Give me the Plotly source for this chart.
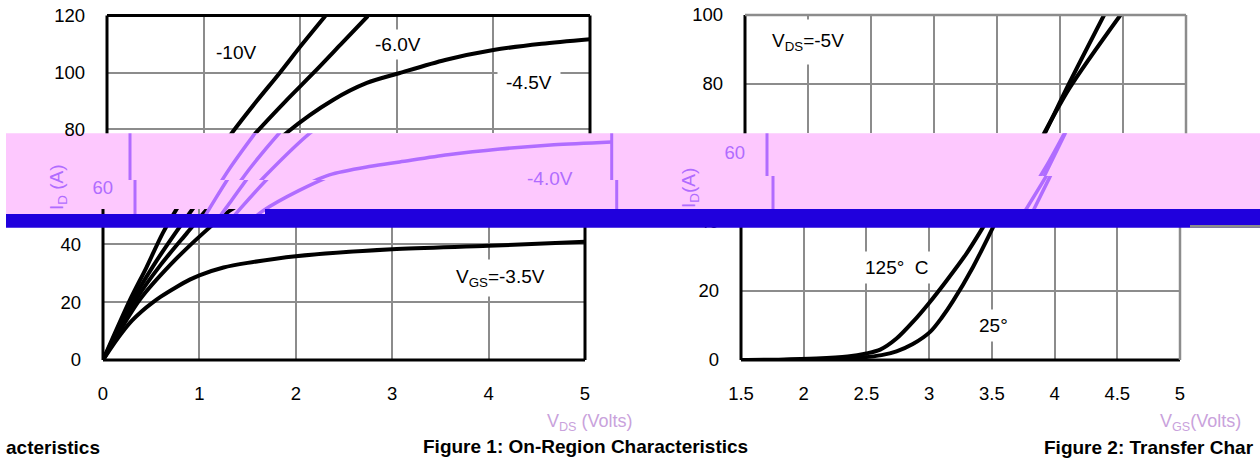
import plotly.graph_objects as go

# ---------------- data ----------------
# Figure 1: On-Region Characteristics  (V_DS volts -> I_D amps), one list pair per V_GS
vds_m10 = [0, 0.28, 0.45, 0.62, 0.85, 1.05, 1.3, 1.55, 1.79, 2.02, 2.26]
id_m10 = [0, 20.8, 32, 43.9, 57, 67.5, 79.1, 90, 100, 110, 120]
vds_m60 = [0, 0.31, 0.52, 0.75, 1.0, 1.25, 1.55, 1.85, 2.14, 2.42, 2.70]
id_m60 = [0, 20.8, 32.5, 43.9, 55.5, 67, 79.1, 90, 100, 110, 120]
vds_m45 = [0, 0.34, 0.6, 0.87, 1.1, 1.4, 1.87, 2.34, 2.69, 3.03, 3.5, 4.0, 4.5, 5.0]
id_m45 = [0, 20.8, 33, 43.9, 53, 64, 79.1, 90.4, 96.4, 99.9, 104.5, 108, 110.2, 111.8]
vds_m40 = [0, 0.38, 0.7, 1.04, 1.33, 1.7, 2.07, 2.5, 2.8, 3.3, 3.84, 4.4, 5.0]
id_m40 = [0, 20.8, 33, 43.9, 52, 59, 64.5, 67.5, 69, 71.5, 73.5, 75, 76]
vds_m35 = [0, 0.1, 0.2, 0.3, 0.4, 0.5, 0.6, 0.75, 0.9, 1.0, 1.25, 1.5, 2, 3, 4, 5]
id_m35 = [0, 5.0, 9.6, 13.6, 16.8, 19.5, 21.9, 25.0, 27.8, 29.3, 32.0, 33.6, 35.9, 38.3, 39.5, 40.9]

# Figure 2: Transfer Characteristics (V_GS volts -> I_D amps)
vgs_125c = [1.5, 1.8, 2.1, 2.35, 2.5, 2.61, 2.74, 2.87, 3.0, 3.14, 3.30, 3.43, 3.75, 4.07, 4.48]
id_125c = [0, 0.1, 0.4, 1.0, 1.9, 3.0, 6.2, 11.0, 16.5, 23.0, 30.9, 38.4, 57.5, 78.5, 100]
vgs_25c = [1.5, 2.0, 2.3, 2.47, 2.62, 2.74, 2.87, 3.01, 3.1, 3.19, 3.35, 3.51, 3.88, 4.07, 4.35]
id_25c = [0, 0.05, 0.3, 0.7, 1.4, 2.5, 4.6, 8.2, 12.2, 17.0, 26.9, 38.4, 65.7, 80, 100]

fig1_ticks_x = [0, 1, 2, 3, 4, 5]
fig1_ticks_y_low = [0, 20, 40]
fig1_ticks_y_top = [80, 100, 120]
fig2_ticks_x = [1.5, 2, 2.5, 3, 3.5, 4, 4.5, 5]
fig2_ticktext_x = ["1.5", "2", "2.5", "3", "3.5", "4", "4.5", "5"]
fig2_ticks_y_low = [0, 20, 40]
fig2_ticks_y_top = [80, 100]

# ---------------- layout helpers ----------------
W, H = 1260, 458
FONT = "Liberation Sans, Arial, sans-serif"
BLACK = "#000000"
GRID = "#8c8c8c"
PURPLE = "#b06cff"
PINK = "#fdc8fe"
BLUE = "#2000dd"
CLEAR = "rgba(0,0,0,0)"


def pxx(v):
    return v / W


def pxy(v):
    return 1 - v / H


fig = go.Figure()

fig1_curves = [(vds_m10, id_m10), (vds_m60, id_m60), (vds_m45, id_m45),
               (vds_m40, id_m40), (vds_m35, id_m35)]
fig2_curves = [(vgs_125c, id_125c), (vgs_25c, id_25c)]

# subplot index -> (curves, colour)
subplots = {
    1: (fig1_curves, BLACK), 2: (fig1_curves, BLACK),
    3: (fig1_curves, PURPLE), 4: (fig1_curves, PURPLE),
    5: (fig2_curves, BLACK), 6: (fig2_curves, BLACK),
    7: (fig2_curves, PURPLE), 8: (fig2_curves, PURPLE),
}
for i, (curves, col) in subplots.items():
    sx = "x" if i == 1 else f"x{i}"
    sy = "y" if i == 1 else f"y{i}"
    for xs, ys in curves:
        fig.add_trace(go.Scatter(
            x=xs, y=ys, mode="lines", xaxis=sx, yaxis=sy,
            line=dict(color=col, width=4 if col == BLACK else 3.5,
                      shape="spline", smoothing=0.8),
            hoverinfo="skip", showlegend=False))

# pixel geometry of each piece (x0, x1, ytop, ybottom) and value ranges
S1_low, S1_band = 2.89, 2.87
S2 = 3.46
pieces = {
    1: dict(xd=(107, 590), yd=(15.5, 133.3), xr=[0, 5],
            yr=[100 - (133.3 - 72.7) / 2.835, 100 + (72.7 - 15.5) / 2.835]),
    2: dict(xd=(103, 585), yd=(209, 360), xr=[0, 5], yr=[0, (360 - 209) / S1_low]),
    3: dict(xd=(130, 611.7), yd=(133.3, 180), xr=[0, 5],
            yr=[(360 - 180) / S1_band, (360 - 133.3) / S1_band]),
    4: dict(xd=(135, 616.7), yd=(180, 214), xr=[0, 5],
            yr=[(360 - 214) / S1_band, (360 - 180) / S1_band]),
    5: dict(xd=(745, 1186), yd=(15, 133.3), xr=[1.5, 5],
            yr=[(360 - 133.3) / 3.45, (360 - 15) / 3.45]),
    6: dict(xd=(741, 1180), yd=(209, 360), xr=[1.5, 5], yr=[0, (360 - 209) / S2]),
    7: dict(xd=(767, 1206), yd=(133.3, 176), xr=[1.5, 5],
            yr=[(360 - 176) / S2, (360 - 133.3) / S2]),
    8: dict(xd=(773, 1212), yd=(176, 209), xr=[1.5, 5],
            yr=[(360 - 209) / S2, (360 - 176) / S2]),
}

tickfont = dict(family=FONT, size=18.5, color=BLACK)
ptickfont = dict(family=FONT, size=18.5, color=PURPLE)
axes = {}
for i, p in pieces.items():
    xn = "xaxis" if i == 1 else f"xaxis{i}"
    yn = "yaxis" if i == 1 else f"yaxis{i}"
    fig1 = i <= 4
    band = i in (3, 4, 7, 8)
    xa = dict(domain=[pxx(p["xd"][0]), pxx(p["xd"][1])], range=p["xr"],
              anchor="y" if i == 1 else f"y{i}", zeroline=False, showline=False,
              automargin=False,
              ticks="", fixedrange=True, showgrid=not band, gridcolor=GRID, gridwidth=2,
              tickvals=fig1_ticks_x if fig1 else fig2_ticks_x,
              showticklabels=i in (2, 6), tickfont=tickfont, ticklabelstandoff=20)
    if not fig1:
        xa["ticktext"] = fig2_ticktext_x
    ya = dict(domain=[pxy(p["yd"][1]), pxy(p["yd"][0])], range=p["yr"],
              anchor="x" if i == 1 else f"x{i}", zeroline=False, showline=False,
              automargin=False,
              ticks="", fixedrange=True, showgrid=not band, gridcolor=GRID, gridwidth=2,
              tickfont=ptickfont if band else tickfont, ticklabelstandoff=21)
    if i == 1:
        ya["tickvals"] = fig1_ticks_y_top
    elif i == 2:
        ya["tickvals"] = fig1_ticks_y_low
    elif i == 5:
        ya["tickvals"] = fig2_ticks_y_top
    elif i == 6:
        ya["tickvals"] = fig2_ticks_y_low
    elif i in (4, 7):
        ya["tickvals"] = [60]
    else:
        ya["tickvals"] = []
        ya["showticklabels"] = False
    axes[xn] = xa
    axes[yn] = ya

# ---------------- frames ----------------
shapes = []
shapes.append(dict(type="rect", xref="paper", yref="paper", layer="below",
                   x0=pxx(6), x1=1, y0=pxy(214), y1=pxy(133.3),
                   fillcolor=PINK, line=dict(width=0)))


def frame(i, side, color, width):
    xr = "x domain" if i == 1 else f"x{i} domain"
    yr = "y domain" if i == 1 else f"y{i} domain"
    pos = {"left": (0, 0, 0, 1), "right": (1, 1, 0, 1),
           "top": (0, 1, 1, 1), "bottom": (0, 1, 0, 0)}[side]
    shapes.append(dict(type="line", xref=xr, yref=yr, layer="above",
                       x0=pos[0], x1=pos[1], y0=pos[2], y1=pos[3],
                       line=dict(color=color, width=width)))


for s in ("left", "top", "right"):
    frame(1, s, BLACK, 3)
for s in ("left", "bottom", "right"):
    frame(2, s, BLACK, 3)
for i in (3, 4):
    frame(i, "left", PURPLE, 3)
    frame(i, "right", PURPLE, 3)
frame(5, "left", BLACK, 3)
frame(5, "top", GRID, 2.5)
frame(5, "right", GRID, 2.5)
frame(6, "left", BLACK, 3)
frame(6, "bottom", BLACK, 3)
frame(6, "right", GRID, 2.5)
frame(7, "left", PURPLE, 3)
frame(8, "left", PURPLE, 3)

# blue band on top of everything
shapes.append(dict(type="rect", xref="paper", yref="paper", layer="above",
                   x0=pxx(6), x1=pxx(265), y0=pxy(227.7), y1=pxy(214),
                   fillcolor=BLUE, line=dict(width=0)))
shapes.append(dict(type="rect", xref="paper", yref="paper", layer="above",
                   x0=pxx(265), x1=1, y0=pxy(227.7), y1=pxy(209),
                   fillcolor=BLUE, line=dict(width=0)))
shapes.append(dict(type="rect", xref="paper", yref="paper", layer="above",
                   x0=pxx(1190), x1=1, y0=pxy(227.7), y1=pxy(225),
                   fillcolor=GRID, line=dict(width=0)))

# ---------------- annotations ----------------
lab = dict(family=FONT, size=19, color=BLACK)
ann = []


def note(text, x, y, xr, yr, font=lab, bg="white", pad=4, **kw):
    d = dict(text=text, x=x, y=y, xref=xr, yref=yr, showarrow=False, font=font,
             bgcolor=bg, borderpad=pad, xanchor="center", yanchor="middle")
    d.update(kw)
    ann.append(d)


note("-10V", 1.335, 107.3, "x", "y")
note("-6.0V", 3.01, 110.1, "x", "y")
note("-4.5V", 4.37, 96.4, "x", "y", pad=8)
note("V<sub>GS</sub>=-3.5V", 4.12, 28.4, "x2", "y2", pad=6)
note("-4.0V", 4.36, 63.07, "x3", "y3", font=dict(family=FONT, size=19, color=PURPLE),
     bg=CLEAR)
note("V<sub>DS</sub>=-5V", 2.0, 92.2, "x5", "y5", pad=10)
note("125°\u00a0 C", 2.744, 26.6, "x6", "y6", pad=5)
note("25°", 3.51, 10.1, "x6", "y6", pad=5)

# band y-axis titles (purple)
note("I<sub>D</sub> (A)", pxx(58), pxy(187), "paper", "paper",
     font=dict(family=FONT, size=19, color=PURPLE), bg=CLEAR, pad=0,
     textangle=-90)
note("I<sub>D</sub>(A)", pxx(690), pxy(188), "paper", "paper",
     font=dict(family=FONT, size=19, color=PURPLE), bg=CLEAR, pad=0,
     textangle=-90)

# x-axis titles (faded)
note("V<sub>DS</sub> (Volts)", pxx(590), pxy(422), "paper", "paper",
     font=dict(family=FONT, size=18, color="#c9a2dc"), bg=CLEAR, pad=0)
note("V<sub>GS</sub>(Volts)", pxx(1200), pxy(422), "paper", "paper",
     font=dict(family=FONT, size=18, color="#c9a2dc"), bg=CLEAR, pad=0)

# captions
cap = dict(family=FONT, size=19, color=BLACK)
note("<b>acteristics</b>", pxx(5), pxy(447), "paper", "paper", font=cap,
     bg=CLEAR, pad=0, xanchor="left")
note("<b>Figure 1: On-Region Characteristics</b>", pxx(585), pxy(446.5), "paper", "paper",
     font=cap, bg=CLEAR, pad=0)
note("<b>Figure 2: Transfer Char</b>", pxx(1043), pxy(447), "paper", "paper", font=cap,
     bg=CLEAR, pad=0, xanchor="left")

fig.update_layout(
    width=W, height=H, autosize=False,
    margin=dict(l=0, r=0, t=0, b=0, pad=0, autoexpand=False),
    paper_bgcolor="white", plot_bgcolor=CLEAR,
    showlegend=False, hovermode=False,
    font=dict(family=FONT, size=18.5, color=BLACK),
    shapes=shapes, annotations=ann,
    **axes,
)

fig.write_html("out.html", config={"displayModeBar": False})
